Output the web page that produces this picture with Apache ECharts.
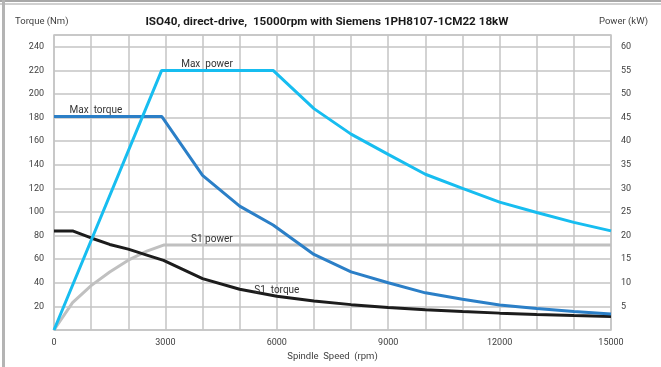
<!DOCTYPE html>
<html>
<head>
<meta charset="utf-8">
<script src="https://cdn.jsdelivr.net/npm/echarts@6/dist/echarts.min.js"></script>
<style>
html,body{margin:0;padding:0;background:#fff;}
#c{width:661px;height:367px;}
</style>
</head>
<body>
<div id="c"></div>
<script>
// ---- data ----
const maxTorqueRpm = [0, 2900, 4000, 5000, 5900, 7000, 8000, 9000, 10000, 11000, 12000, 13000, 14000, 15000];
const maxTorqueNm  = [181, 181, 131, 105, 89, 64, 49.3, 40, 31.5, 26, 21.2, 18.2, 15.6, 13.5];

const maxPowerRpm = [0, 2900, 5900, 7000, 8000, 9000, 10000, 11000, 12000, 13000, 14000, 15000];
const maxPowerKw  = [0, 55, 55, 46.9, 41.5, 37.2, 33, 30, 27.1, 24.9, 22.8, 21];

const s1TorqueRpm = [0, 500, 1000, 1500, 2000, 2500, 2950, 4000, 5000, 6000, 7000, 8000, 9000, 10000, 11000, 12000, 13000, 14000, 15000];
const s1TorqueNm  = [84, 84, 78, 72.5, 68.5, 63.5, 59, 43.5, 34.5, 28.6, 24.6, 21.5, 19.1, 17.2, 15.6, 14.3, 13.2, 12.3, 11.5];

const s1PowerRpm = [0, 500, 1000, 1500, 2000, 2500, 2950, 15000];
const s1PowerKw  = [0, 5.8, 9.4, 12.3, 14.8, 16.7, 18, 18];

const xTicks = [0, 3000, 6000, 9000, 12000, 15000];

const titleText = 'ISO40, direct-drive,  15000rpm with Siemens 1PH8107-1CM22 18kW';
const leftName = 'Torque (Nm)';
const rightName = 'Power (kW)';
const xName = 'Spindle  Speed  (rpm)';

const labels = {
  maxTorque: {text: 'Max  torque', rpm: 1130, val: 181},
  maxPower: {text: 'Max  power', rpm: 4120, val: 55},
  s1Power: {text: 'S1 power', rpm: 4250, val: 18},
  s1Torque: {text: 'S1  torque', rpm: 6000, val: 28.6}
};

function zip(a, b) { return a.map((v, i) => [v, b[i]]); }

const FONT = 'Roboto';
const gridColor = '#c4c4c4';
const textColor = '#404040';

function lbl(l) {
  return {
    symbol: 'circle', symbolSize: 1, silent: true,
    itemStyle: {color: 'rgba(0,0,0,0)'},
    label: {show: true, position: 'top', distance: 0, color: '#333', fontFamily: FONT, fontSize: 10},
    data: [{coord: [l.rpm, l.val], value: l.text, label: {formatter: l.text}}]
  };
}

const chart = echarts.init(document.getElementById('c'));
chart.setOption({
  animation: false,
  backgroundColor: '#fff',
  title: [
    {text: titleText, left: 322, top: 11, textAlign: 'center',
     textStyle: {fontFamily: FONT, fontSize: 11.7, fontWeight: 'bold', color: '#1a1a1a'}},
    {text: leftName, left: 10, top: 12, textStyle: {fontFamily: FONT, fontSize: 9.5, fontWeight: 'normal', color: textColor}},
    {text: rightName, left: 594, top: 12, textStyle: {fontFamily: FONT, fontSize: 9.5, fontWeight: 'normal', color: textColor}}
  ],
  graphic: [
    {type: 'rect', shape: {x: 0, y: 0, width: 661, height: 2}, style: {fill: '#a8a8a8'}, silent: true},
    {type: 'rect', shape: {x: 0, y: 3, width: 661, height: 2}, style: {fill: '#d0d0d0'}, silent: true},
    {type: 'rect', shape: {x: 2, y: 0, width: 3, height: 367}, style: {fill: '#b4b4b4'}, silent: true}
  ],
  grid: {left: 54, right: 50, top: 35, bottom: 36, show: true, borderColor: gridColor, borderWidth: 1.5},
  xAxis: {
    type: 'value', min: 0, max: 15000, interval: 1000,
    name: xName, nameLocation: 'middle', nameGap: 22,
    nameTextStyle: {fontFamily: FONT, fontSize: 9.5, color: textColor},
    axisLine: {show: false}, axisTick: {show: false},
    axisLabel: {margin: 8, fontFamily: FONT, fontSize: 9, color: textColor,
      formatter: v => xTicks.indexOf(v) >= 0 ? String(v) : ''},
    splitLine: {show: true, lineStyle: {color: gridColor, width: 1.5}}
  },
  yAxis: [
    {type: 'value', min: 0, max: 250, interval: 20,
     axisLine: {show: false}, axisTick: {show: false},
     axisLabel: {margin: 10, fontFamily: FONT, fontSize: 9, color: textColor, showMinLabel: false, showMaxLabel: false,
       formatter: v => (v > 0 && v <= 240) ? String(v) : ''},
     splitLine: {show: true, lineStyle: {color: gridColor, width: 1.5}}},
    {type: 'value', min: 0, max: 62.5, interval: 5,
     axisLine: {show: false}, axisTick: {show: false},
     axisLabel: {margin: 10, fontFamily: FONT, fontSize: 9, color: textColor, showMinLabel: false, showMaxLabel: false,
       formatter: v => (v > 0 && v <= 60) ? String(v) : ''},
     splitLine: {show: false}}
  ],
  series: [
    {name: 'S1 power', type: 'line', yAxisIndex: 1, data: zip(s1PowerRpm, s1PowerKw),
     symbol: 'none', lineStyle: {color: '#c0c0c0', width: 3}, markPoint: lbl(labels.s1Power)},
    {name: 'S1 torque', type: 'line', yAxisIndex: 0, data: zip(s1TorqueRpm, s1TorqueNm),
     symbol: 'none', lineStyle: {color: '#1c1c1c', width: 3}, markPoint: lbl(labels.s1Torque)},
    {name: 'Max torque', type: 'line', yAxisIndex: 0, data: zip(maxTorqueRpm, maxTorqueNm),
     symbol: 'none', lineStyle: {color: '#2b7fc7', width: 3}, markPoint: lbl(labels.maxTorque)},
    {name: 'Max power', type: 'line', yAxisIndex: 1, data: zip(maxPowerRpm, maxPowerKw),
     symbol: 'none', lineStyle: {color: '#17bdf0', width: 3}, markPoint: lbl(labels.maxPower)}
  ]
});
</script>
</body>
</html>
